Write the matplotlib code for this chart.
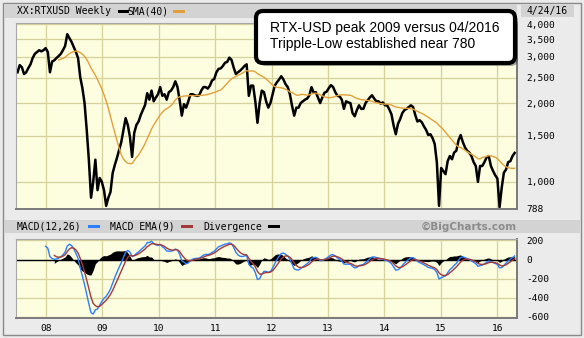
import numpy as np
import pandas as pd
import matplotlib
matplotlib.use("Agg")
import matplotlib.pyplot as plt
from matplotlib.patches import Rectangle, FancyBboxPatch
from matplotlib.ticker import FixedLocator, NullLocator

plt.rcParams["font.family"] = ["DejaVu Sans Mono"]

last_date = "2016-04-24"
# RTX-USD closes every 2 weeks
close = [
    2620, 2790, 2740, 2580, 2620, 2720, 2810, 2970, 3080, 3130, 3180, 3150, 3180, 3240, 3130,
    2620, 2880, 2910, 2970, 3020, 3080, 3180, 3300, 3660, 3540, 3420, 3270, 3130, 2970, 2510,
    2280, 2000, 1580, 1210, 870, 1000, 1215, 930, 1035, 1000, 930, 810, 870, 915, 1080,
    1160, 1235, 1325, 1420, 1580, 1750, 1650, 1485, 1245, 1540, 1650, 1700, 1800, 1880, 1965,
    2180, 2060, 2230, 2030, 2100, 2160, 2300, 2130, 2160, 2060, 2200, 2230, 2300, 2420, 2300,
    2050, 1790, 1980, 1920, 2030, 2160, 2160, 2140, 2130, 2140, 2230, 2300, 2300, 2270, 2330,
    2440, 2470, 2620, 2700, 2710, 2770, 2850, 2870, 2980, 2920, 2730, 2580, 2620, 2660, 2710,
    2770, 2810, 2130, 2330, 2330, 2030, 1680, 2000, 2230, 2200, 2030, 1920, 2000, 2160, 2330,
    2400, 2460, 2530, 2460, 2360, 2300, 2160, 1950, 1790, 1920, 1920, 2000, 2030, 2060, 2080,
    2140, 2300, 2190, 2200, 2100, 2000, 2100, 2190, 2210, 2280, 2340, 2300, 2200, 2130, 2120,
    2060, 1900, 2030, 2010, 2000, 1830, 1780, 1880, 1960, 1900, 1900, 2000, 2050, 2100, 2140,
    2080, 2030, 2030, 1990, 2010, 1960, 1960, 1890, 1810, 1640, 1520, 1665, 1735, 1830, 1880,
    1900, 1930, 1960, 1930, 1800, 1700, 1720, 1690, 1630, 1580, 1510, 1520, 1470, 1395, 1185,
    810, 1130, 1100, 1070, 1200, 1255, 1220, 1295, 1315, 1440, 1510, 1420, 1355, 1315, 1295,
    1255, 1190, 1150, 1000, 1150, 1150, 1190, 1240, 1255, 1150, 1100, 1060, 1030, 800, 950,
    1085, 1115, 1190, 1200, 1255, 1290,
]

price_ticks = [788, 1000, 1500, 2000, 2500, 3000, 3500, 4000]
macd_ticks = [200, 0, -200, -400, -600]
years = list(range(2008, 2017))
year_labels = ["08", "09", "10", "11", "12", "13", "14", "15", "16"]

step_weeks = 2
sma_weeks = 40
fast, slow, sig = 12, 26, 9

dates = pd.date_range(end=last_date, periods=len(close), freq="14D")
s = pd.Series(close, index=dates, dtype=float)


def ema(x, weeks):
    a = 1 - (1 - 2 / (weeks + 1)) ** step_weeks
    return x.ewm(alpha=a, adjust=False).mean()


sma = s.rolling(sma_weeks // step_weeks).mean()
macd = ema(s, fast) - ema(s, slow)
macd.iloc[: slow // step_weeks] = np.nan
signal = ema(macd.dropna(), sig).reindex(dates)
signal.iloc[: (slow + sig) // step_weeks] = np.nan
div = macd - signal

W, H = 584, 338
fig = plt.figure(figsize=(W / 100, H / 100), dpi=100, facecolor="#ebebeb")


def box(x0, y0, x1, y1):
    return [x0 / W, 1 - y1 / H, (x1 - x0) / W, (y1 - y0) / H]


ax = fig.add_axes(box(16, 23, 517, 209))
ax2 = fig.add_axes(box(16, 239, 517, 318))
year_ticks = pd.to_datetime([f"{y}-01-01" for y in years])

for a in (ax, ax2):
    a.set_facecolor("#fdfddf")
    a.set_xlim(pd.Timestamp("2007-06-21"), pd.Timestamp("2016-05-09"))
    a.set_xticks(year_ticks)
    a.grid(True, color="#d5d29c", lw=0.9)
    a.set_axisbelow(True)
    a.yaxis.tick_right()
    a.tick_params(length=0, labelsize=6.8, colors="black")
    a.tick_params(axis="y", pad=7)
    for side in ("left", "top"):
        a.spines[side].set_color("#a8a8a8")
        a.spines[side].set_linewidth(0.8)
    for side in ("right", "bottom"):
        a.spines[side].set_color("#7a7a7a")
        a.spines[side].set_linewidth(1.4)

# price panel
ax.plot(dates, s, color="black", lw=1.8)
ax.plot(dates, sma, color="#e3a03a", lw=1)
ax.set_yscale("log")
ax.set_ylim(788, 4040)
ax.yaxis.set_major_locator(FixedLocator(price_ticks))
ax.yaxis.set_minor_locator(NullLocator())
ax.set_yticklabels([f"{v:,}" for v in price_ticks])
ax.tick_params(axis="x", labelbottom=False)

# MACD panel
ax2.fill_between(dates, 0, div, color="black", lw=0)
ax2.axhline(0, color="black", lw=1)
ax2.plot(dates, macd, color="#2a7fff", lw=1)
ax2.plot(dates, signal, color="#a33a3a", lw=1)
ax2.set_ylim(-612, 215)
ax2.set_yticks(macd_ticks)
ax2.set_yticklabels([str(v) for v in macd_ticks])
ax2.set_xticklabels(year_labels)
ax2.tick_params(axis="x", pad=4)

# overlay for strips, legend and note
ov = fig.add_axes([0, 0, 1, 1], zorder=10)
ov.set_xlim(0, W)
ov.set_ylim(H, 0)
ov.axis("off")
ov.patch.set_alpha(0)

ov.add_patch(Rectangle((2.5, 2.5), 578, 332, fill=False, ec="#8a8a8a", lw=1))
ov.add_patch(Rectangle((4, 4), 513, 14, color="#d3d3d3", lw=0))
ov.add_patch(Rectangle((521, 5), 53, 12, color="#d3d3d3", lw=0))
ov.add_patch(Rectangle((4, 220), 576, 13, color="#d3d3d3", lw=0))

lab = dict(fontsize=7, va="center", ha="left")
ov.text(17, 11, "XX:RTXUSD Weekly", **lab)
ov.add_patch(Rectangle((118, 9.5), 11, 3, color="black", lw=0))
ov.text(127, 11, "SMA(40)", **lab)
ov.add_patch(Rectangle((173, 9.5), 12, 3, color="#e3a03a", lw=0))
ov.text(547, 11, "4/24/16", fontsize=7, va="center", ha="center")

ov.text(17, 226.5, "MACD(12,26)", **lab)
ov.add_patch(Rectangle((88, 225), 12, 3, color="#2a7fff", lw=0))
ov.text(110, 226.5, "MACD EMA(9)", **lab)
ov.add_patch(Rectangle((181, 225), 12, 3, color="#a33a3a", lw=0))
ov.text(203, 226.5, "Divergence", **lab)
ov.add_patch(Rectangle((268, 225), 12, 3, color="black", lw=0))
ov.text(517, 226.5, "\u00a9BigCharts.com", fontsize=7.5, fontweight="bold",
        family=["DejaVu Sans"], color="#8c8c8c", va="center", ha="right")

# note box
ov.add_patch(FancyBboxPatch((259, 14), 259, 52, boxstyle="round,pad=0,rounding_size=7",
                            fc="#404040", ec="none", alpha=0.45))
ov.add_patch(FancyBboxPatch((256, 11), 259, 52, boxstyle="round,pad=0,rounding_size=7",
                            fc="white", ec="black", lw=3))
note = dict(fontsize=10, family=["Liberation Sans"], va="center", ha="left")
ov.text(270, 28, "RTX-USD peak 2009 versus 04/2016", **note)
ov.text(270, 44, "Tripple-Low established near 780", **note)

fig.savefig("out.png", dpi=100, facecolor=fig.get_facecolor())
